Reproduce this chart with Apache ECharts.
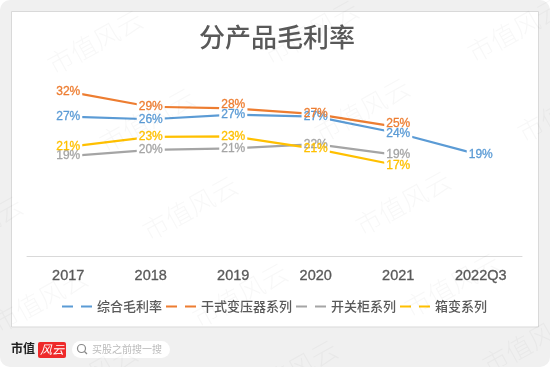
<!DOCTYPE html>
<html>
<head>
<meta charset="utf-8">
<style>html,body{margin:0;padding:0;background:#fff}#box{width:550px;height:367px}</style>
<script src="https://cdn.jsdelivr.net/npm/echarts@6/dist/echarts.min.js"></script>
</head>
<body>
<div id="box"></div>
<script>
var categories = ['2017', '2018', '2019', '2020', '2021', '2022Q3'];
var seriesNames = ['综合毛利率', '干式变压器系列', '开关柜系列', '箱变系列'];
var colors = ['#5B9BD5', '#ED7D31', '#A5A5A5', '#FFC000'];

var overall = [26.8, 26.3, 27.2, 26.8, 23.6, 19.4];
var dryType = [31.6, 28.7, 28.4, 27.3, 24.8, null];
var switchgear = [19.2, 20.4, 20.7, 21.5, 19.4, null];
var boxType = [21.0, 22.9, 23.0, 20.6, 17.4, null];
var allValues = [overall, dryType, switchgear, boxType];

var watermarks = [[95, 42], [311, 32], [515, 30], [147, 120], [362, 110], [565, 110], [-25, 228], [190, 208], [403, 203], [40, 300], [240, 295], [452, 285], [90, 375], [290, 372], [530, 342]];

var labelFont = 'Liberation Sans';
var cjkFont = 'Noto Sans CJK SC';
var myChart = echarts.init(document.getElementById('box'));

var graphics = [
	{ type: 'rect', z: -10, shape: { x: 0, y: 0, width: 550, height: 367, r: 10 }, style: { fill: '#f0f0f0' } },
	{ type: 'rect', z: -9, shape: { x: 11.5, y: 11.5, width: 527, height: 315.5 }, style: { fill: '#fff', stroke: '#d9d9d9', lineWidth: 1 } },
	// 底部logo和搜索框
	{ type: 'text', x: 11, y: 342, z: 1, style: { text: '市值', fontSize: 12, fontWeight: 'bold', fontFamily: cjkFont, fill: '#222' } },
	{ type: 'rect', z: 1, shape: { x: 38, y: 342, width: 28, height: 16, r: 2 }, style: { fill: '#ee2a2a' } },
	{ type: 'text', x: 40, y: 343, z: 2, style: { text: '风云', fontSize: 12, fontStyle: 'italic', fontFamily: cjkFont, fill: '#fff' } },
	{ type: 'rect', z: 1, shape: { x: 72, y: 341, width: 98, height: 17, r: 8.5 }, style: { fill: '#fff' } },
	{ type: 'circle', z: 2, shape: { cx: 81.5, cy: 348.5, r: 4 }, style: { fill: 'none', stroke: '#888', lineWidth: 1.2 } },
	{ type: 'line', z: 2, shape: { x1: 84.5, y1: 351.5, x2: 87, y2: 354 }, style: { stroke: '#888', lineWidth: 1.2 } },
	{ type: 'text', x: 92, y: 344, z: 2, style: { text: '买股之前搜一搜', fontSize: 10, fontFamily: cjkFont, fill: '#bbb' } }
];
watermarks.forEach(function (p) {
	graphics.push({
		type: 'text', x: p[0], y: p[1], rotation: 29 * Math.PI / 180, z: 50, silent: true,
		style: { text: '市值风云', fontSize: 26, fontWeight: 200, fontFamily: cjkFont, fill: 'rgba(0,0,0,0.03)', align: 'center', verticalAlign: 'middle' }
	});
});

function pct(p) { return Math.round(p.value) + '%'; }
// 干式变压器系列 2019、2021 的标签原图里往上挪了一点
function moveLabel(p) {
	if (p.seriesIndex % 4 === 1 && p.dataIndex === 2) return { dy: -4 };
	if (p.seriesIndex % 4 === 1 && p.dataIndex === 4) return { dy: -3.5 };
	return {};
}

var series = [];
// 先画线和白底（断开折线），再单独画文字，这样重叠的标签不会互相遮挡
allValues.forEach(function (vals, i) {
	series.push({
		name: seriesNames[i], type: 'line', data: vals, z: 3, symbol: 'circle', symbolSize: 0, showAllSymbol: true,
		lineStyle: { width: 2.2, color: colors[i], cap: 'butt' },
		itemStyle: { color: colors[i] },
		labelLayout: moveLabel,
		label: {
			show: true, position: 'inside', offset: [1, 0], color: 'rgba(255,255,255,0)', backgroundColor: '#fff',
			padding: [1, 2], fontFamily: labelFont, fontSize: 12, formatter: pct
		}
	});
});
allValues.forEach(function (vals, i) {
	series.push({
		name: seriesNames[i] + '-label', type: 'line', data: vals, z: 4, symbol: 'circle', symbolSize: 0, showAllSymbol: true,
		lineStyle: { width: 0, opacity: 0 },
		labelLayout: moveLabel,
		label: {
			show: true, position: 'inside', offset: [1, 0], color: colors[i],
			fontFamily: labelFont, fontSize: 12, textBorderColor: colors[i], textBorderWidth: 0.3, formatter: pct
		}
	});
});

var option = {
	animation: false,
	title: {
		text: '分产品毛利率', left: 194, top: 19,
		textStyle: { color: '#595959', fontSize: 26, fontWeight: 500, fontFamily: cjkFont }
	},
	color: colors,
	legend: {
		data: seriesNames.map(function (n) { return { name: n, icon: 'path://M0 0H11V2H0ZM19 0H30V2H19Z' }; }),
		left: 57, top: 295, itemWidth: 30, itemHeight: 2.5, itemGap: 4,
		textStyle: { color: '#595959', fontSize: 13, fontWeight: 500, fontFamily: cjkFont }
	},
	grid: { left: 27, width: 495, top: 48, height: 208 },
	xAxis: [{
		type: 'category', data: categories, boundaryGap: true,
		axisTick: { show: false },
		axisLine: { lineStyle: { color: '#d9d9d9', width: 1 } },
		axisLabel: { color: '#595959', fontSize: 14.5, fontFamily: labelFont, margin: 12, textBorderColor: '#595959', textBorderWidth: 0.3 }
	}],
	yAxis: [{ type: 'value', min: 0, max: 40, show: false, splitLine: { show: false } }],
	graphic: graphics,
	series: series
};
myChart.setOption(option);
</script>
</body>
</html>
